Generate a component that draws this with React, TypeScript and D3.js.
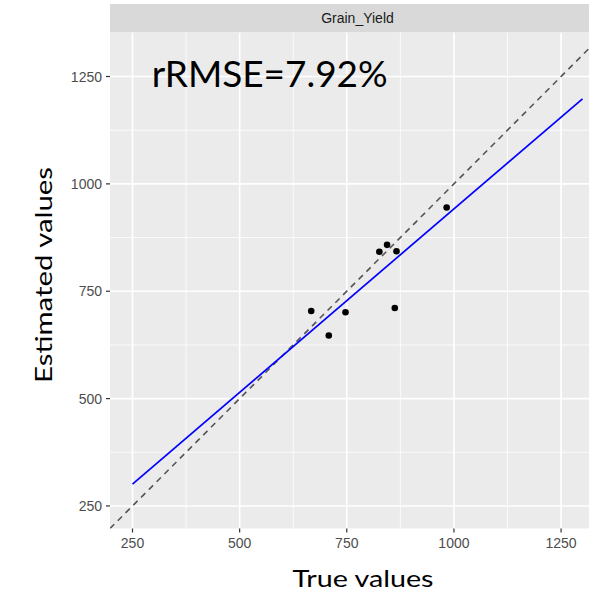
import React from "react";
import * as d3 from "d3";

const trueValues = [667, 708, 747, 826, 844, 866, 862, 983];
const estValues = [704, 647, 701, 842, 858, 843, 711, 945];
const fitX = [250, 1300];
const fitY = [301, 1198];
const ticks = [250, 500, 750, 1000, 1250];
const minorTicks = [375, 625, 875, 1125];
const domain = [197.5, 1352.5];
const panelLabel = "Grain_Yield";
const annotation = "rRMSE=7.92%";
const annotationPos = [570, 1257];

const W = 589;
const H = 592;
const L = 110;
const R = 605;
const T = 32.5;
const B = 528.5;

export default function App() {
  const x = d3.scaleLinear().domain(domain).range([L, R]);
  const y = d3.scaleLinear().domain(domain).range([B, T]);
  const line = d3
    .line<[number, number]>()
    .x((d) => x(d[0]))
    .y((d) => y(d[1]));
  const fitPts: [number, number][] = fitX.map((v, i) => [v, fitY[i]]);
  const idPts: [number, number][] = [
    [domain[0], domain[0]],
    [domain[1], domain[1]],
  ];
  const tickFont = "'Liberation Sans', Arial, sans-serif";
  const titleFont = "Lato, 'Open Sans', sans-serif";
  return (
    <svg
      width={W}
      height={H}
      style={{ position: "absolute", left: 0, top: 0, background: "#fff" }}
    >
      <defs>
        <clipPath id="panel">
          <rect x={L} y={T} width={R - L} height={B - T} />
        </clipPath>
      </defs>
      <rect x={L} y={4} width={R - L} height={T - 4} fill="#d9d9d9" />
      <text
        x={(L + R) / 2}
        y={23}
        textAnchor="middle"
        fontFamily={tickFont}
        fontSize={14}
        fill="#1a1a1a"
      >
        {panelLabel}
      </text>
      <rect x={L} y={T} width={R - L} height={B - T} fill="#ebebeb" />
      <g clipPath="url(#panel)">
        {minorTicks.map((t) => (
          <g key={"m" + t}>
            <line x1={x(t)} x2={x(t)} y1={T} y2={B} stroke="#fff" strokeWidth={0.8} />
            <line x1={L} x2={R} y1={y(t)} y2={y(t)} stroke="#fff" strokeWidth={0.8} />
          </g>
        ))}
        {ticks.map((t) => (
          <g key={"M" + t}>
            <line x1={x(t)} x2={x(t)} y1={T} y2={B} stroke="#fff" strokeWidth={1.6} />
            <line x1={L} x2={R} y1={y(t)} y2={y(t)} stroke="#fff" strokeWidth={1.6} />
          </g>
        ))}
        <path
          d={line(idPts) || ""}
          stroke="#555"
          strokeWidth={1.6}
          strokeDasharray="6 5"
          fill="none"
        />
        <path d={line(fitPts) || ""} stroke="#0000ff" strokeWidth={1.7} fill="none" />
        {trueValues.map((v, i) => (
          <circle key={i} cx={x(v)} cy={y(estValues[i])} r={3.3} fill="#000" />
        ))}
      </g>
      {ticks.map((t) => (
        <g key={"xt" + t}>
          <line x1={x(t)} x2={x(t)} y1={B} y2={B + 4} stroke="#333" strokeWidth={1.2} />
          <text
            x={x(t)}
            y={B + 19.5}
            textAnchor="middle"
            fontFamily={tickFont}
            fontSize={14}
            fill="#4d4d4d"
          >
            {t}
          </text>
          <line x1={L - 4} x2={L} y1={y(t)} y2={y(t)} stroke="#333" strokeWidth={1.2} />
          <text
            x={L - 8}
            y={y(t) + 5}
            textAnchor="end"
            fontFamily={tickFont}
            fontSize={14}
            fill="#4d4d4d"
          >
            {t}
          </text>
        </g>
      ))}
      <text
        x={363}
        y={587}
        textAnchor="middle"
        fontFamily={titleFont}
        fontSize={22.5}
        fill="#000"
        textLength={141}
        lengthAdjust="spacingAndGlyphs"
      >
        True values
      </text>
      <text
        transform={`translate(52, 275) rotate(-90)`}
        textAnchor="middle"
        fontFamily={titleFont}
        fontSize={23.5}
        fill="#000"
        textLength={216}
        lengthAdjust="spacingAndGlyphs"
      >
        Estimated values
      </text>
      <text
        x={x(annotationPos[0])}
        y={y(annotationPos[1]) + 13.5}
        textAnchor="middle"
        fontFamily={titleFont}
        fontSize={37}
        fill="#000"
        textLength={236}
        lengthAdjust="spacingAndGlyphs"
      >
        {annotation}
      </text>
    </svg>
  );
}
